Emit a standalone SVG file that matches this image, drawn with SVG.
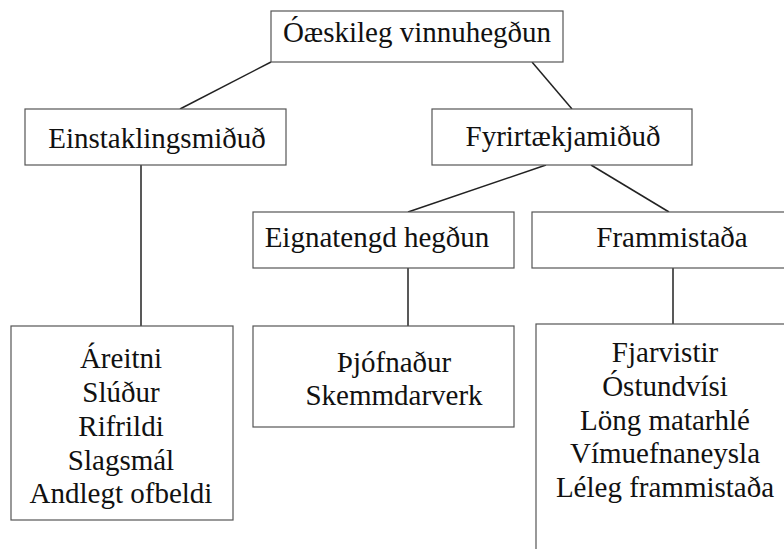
<svg xmlns="http://www.w3.org/2000/svg" width="784" height="549" viewBox="0 0 784 549">
<style>
.box{fill:#fff;stroke:#555;stroke-width:1.2}
.lbl{font-size:29px;fill:#111;text-anchor:middle}
.conn line{stroke:#222;stroke-width:1.5}
</style>
<rect width="784" height="549" fill="#fff"/>
<g class="conn" id="connectors">
<line x1="271" y1="62" x2="180" y2="109"/>
<line x1="532" y1="62" x2="572" y2="109"/>
<line x1="141" y1="165" x2="141" y2="326"/>
<line x1="546" y1="165" x2="408" y2="212"/>
<line x1="591" y1="165" x2="669" y2="212"/>
<line x1="408" y1="268" x2="408" y2="326"/>
<line x1="673" y1="268" x2="673" y2="324"/>
</g>
<g font-family="'Liberation Serif', 'DejaVu Serif', serif">
<g id="root">
<rect class="box" x="271" y="11" width="292" height="51"/>
<text class="lbl" x="417" y="42">Óæskileg vinnuhegðun</text>
</g>
<g id="einstaklings">
<rect class="box" x="25" y="109" width="261" height="56"/>
<text class="lbl" x="157" y="148">Einstaklingsmiðuð</text>
</g>
<g id="fyrirtaekja">
<rect class="box" x="432" y="109" width="260" height="56"/>
<text class="lbl" x="563" y="146">Fyrirtækjamiðuð</text>
</g>
<g id="eignatengd">
<rect class="box" x="253" y="212" width="261" height="56"/>
<text class="lbl" x="377" y="247">Eignatengd hegðun</text>
</g>
<g id="frammistada">
<rect class="box" x="532" y="212" width="260" height="56"/>
<text class="lbl" x="672" y="247">Frammistaða</text>
</g>
<g id="einst-list">
<rect class="box" x="11" y="326" width="222" height="194"/>
<text class="lbl" x="121" y="368">Áreitni</text>
<text class="lbl" x="121" y="402">Slúður</text>
<text class="lbl" x="121" y="436">Rifrildi</text>
<text class="lbl" x="121" y="470">Slagsmál</text>
<text class="lbl" x="121" y="503">Andlegt ofbeldi</text>
</g>
<g id="eigna-list">
<rect class="box" x="253" y="326" width="261" height="101"/>
<text class="lbl" x="394" y="372">Þjófnaður</text>
<text class="lbl" x="394" y="405">Skemmdarverk</text>
</g>
<g id="fram-list">
<rect class="box" x="536" y="324" width="260" height="240"/>
<text class="lbl" x="665" y="362">Fjarvistir</text>
<text class="lbl" x="665" y="396">Óstundvísi</text>
<text class="lbl" x="665" y="430">Löng matarhlé</text>
<text class="lbl" x="665" y="463">Vímuefnaneysla</text>
<text class="lbl" x="665" y="497">Léleg frammistaða</text>
</g>
</g>
</svg>
